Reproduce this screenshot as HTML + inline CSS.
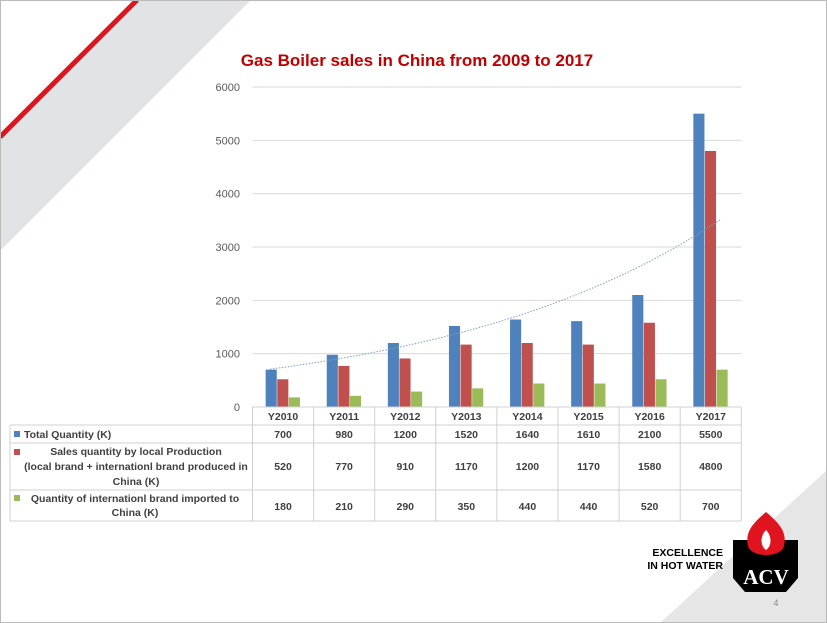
<!DOCTYPE html>
<html><head><meta charset="utf-8"><style>
body{margin:0;width:827px;height:623px;overflow:hidden;background:#fff;font-family:"Liberation Sans",sans-serif}
svg{position:absolute;left:0;top:0}
</style></head><body>
<svg id="c" width="827" height="623">
<polygon points="827,470 827,623 660,623" fill="#e6e6e6"/>
<polygon points="0,139 139,0 251,0 0,251" fill="#e2e3e6"/>
<line x1="0" y1="137" x2="137" y2="0" stroke="#e0141e" stroke-width="5"/>
<rect x="0.5" y="0.5" width="826" height="622" fill="none" stroke="#bbb"/>
<text x="417" y="66" text-anchor="middle" font-size="17" font-weight="bold" fill="#c00000">Gas Boiler sales in China from 2009 to 2017</text>
<g id="plot"></g>
<g id="table"></g>
<text x="723" y="556" text-anchor="end" font-size="10.5" font-weight="bold" fill="#000">EXCELLENCE</text>
<text x="723" y="569" text-anchor="end" font-size="10.5" font-weight="bold" fill="#000">IN HOT WATER</text>
<g>
<path d="M733,540 L798,540 L798,578 L786,592 L745,592 L733,578 Z" fill="#000"/>
<path d="M766,512 C752,524 745,532 748,546 C751,558 781,558 784,546 C787,532 780,524 766,512 Z" fill="#e0141e"/>
<path d="M766,530 C760,536 760,546 766,550 C772,546 772,536 766,530 Z" fill="#fff"/>
<text x="766" y="584" text-anchor="middle" font-family="Liberation Serif,serif" font-size="21" font-weight="bold" fill="#fff">ACV</text>
</g>
<text x="776" y="606" text-anchor="middle" font-size="9" fill="#888">4</text>
</svg>
<script>
const categories=["Y2010","Y2011","Y2012","Y2013","Y2014","Y2015","Y2016","Y2017"];
const totalQty=[700,980,1200,1520,1640,1610,2100,5500];
const localQty=[520,770,910,1170,1200,1170,1580,4800];
const importQty=[180,210,290,350,440,440,520,700];
const yTicks=[0,1000,2000,3000,4000,5000,6000];
const NS="http://www.w3.org/2000/svg";
function mk(t,a,p,txt){const e=document.createElementNS(NS,t);for(const k in a)e.setAttribute(k,a[k]);if(txt!=null)e.textContent=txt;p.appendChild(e);return e;}
const plot=document.getElementById('plot'),tab=document.getElementById('table');
const x0=252.5,step=61.1,yBase=407,yTop=87,yMax=6000;
const y=v=>yBase-(v/yMax)*(yBase-yTop);
const xc=i=>x0+step*(i+0.5);
yTicks.forEach(t=>{
 if(t>0){const g=mk('line',{x1:x0,x2:x0+step*8,y1:y(t),y2:y(t),stroke:'#d9d9d9'},plot);}
 const l=mk('text',{x:240,y:y(t)+4,'text-anchor':'end','font-size':11,fill:'#595959'},plot,t);
 
});
const series=[[totalQty,'#4f81bd','bar-total'],[localQty,'#c0504d','bar-local'],[importQty,'#9bbb59','bar-import']];
const bw=11.6;
categories.forEach((c,i)=>{series.forEach((s,j)=>{
 const v=s[0][i];const r=mk('rect',{x:xc(i)-bw*1.5+j*bw,y:y(v),width:bw-0.5,height:yBase-y(v),fill:s[1]},plot);
 });});
// exponential trendline on total
let n=totalQty.length,sx=0,sy=0,sxx=0,sxy=0;
totalQty.forEach((v,i)=>{const X=i+1,Y=Math.log(v);sx+=X;sy+=Y;sxx+=X*X;sxy+=X*Y;});
const b=(n*sxy-sx*sy)/(n*sxx-sx*sx),a=(sy-b*sx)/n;
let d='';for(let k=0;k<=70;k++){const X=1+7*k/70;const v=Math.exp(a+b*X);const px=270+(X-1)/7*450;d+=(k?'L':'M')+px.toFixed(1)+','+y(v).toFixed(1);}
const tr=mk('path',{d:d,fill:'none',stroke:'#7f9fbf','stroke-width':1,'stroke-dasharray':'1.5,1.5'},plot);

// table
const lc='#d0d0d0';
mk('line',{x1:x0,x2:x0+step*8,y1:407,y2:407,stroke:lc},tab);
[425,443,490,521].forEach(r=>{mk('line',{x1:10,x2:x0+step*8,y1:r,y2:r,stroke:lc},tab);});
mk('line',{x1:10,x2:10,y1:425,y2:521,stroke:lc},tab);
for(let i=0;i<=8;i++)mk('line',{x1:x0+step*i,x2:x0+step*i,y1:407,y2:521,stroke:lc},tab);
categories.forEach((c,i)=>{const t=mk('text',{x:xc(i),y:420,'text-anchor':'middle','font-size':10.5,'font-weight':'bold',fill:'#404040'},tab,c);
 });
const rowY=[438,470,510];
[totalQty,localQty,importQty].forEach((arr,r)=>{arr.forEach((v,i)=>{const t=mk('text',{x:xc(i),y:rowY[r],'text-anchor':'middle','font-size':10.5,'font-weight':'bold',fill:'#404040'},tab,v);
 });});
const labs=[[[ 'Total Quantity (K)',24,438,'start']],
 [['Sales quantity by local Production',136,455,'middle'],['(local brand + internationl brand produced in',136,470,'middle'],['China (K)',136,485,'middle']],
 [['Quantity of internationl brand imported to',135,502,'middle'],['China (K)',135,516,'middle']]];
const sw=[[14,431],[14,449],[14,495]];
labs.forEach((L,r)=>{mk('rect',{x:sw[r][0],y:sw[r][1],width:6,height:6,fill:series[r][1]},tab);
 L.forEach(l=>{const t=mk('text',{x:l[1],y:l[2],'text-anchor':l[3],'font-size':10.5,'font-weight':'bold',fill:'#404040'},tab,l[0]);
 });});
</script>
</body></html>
